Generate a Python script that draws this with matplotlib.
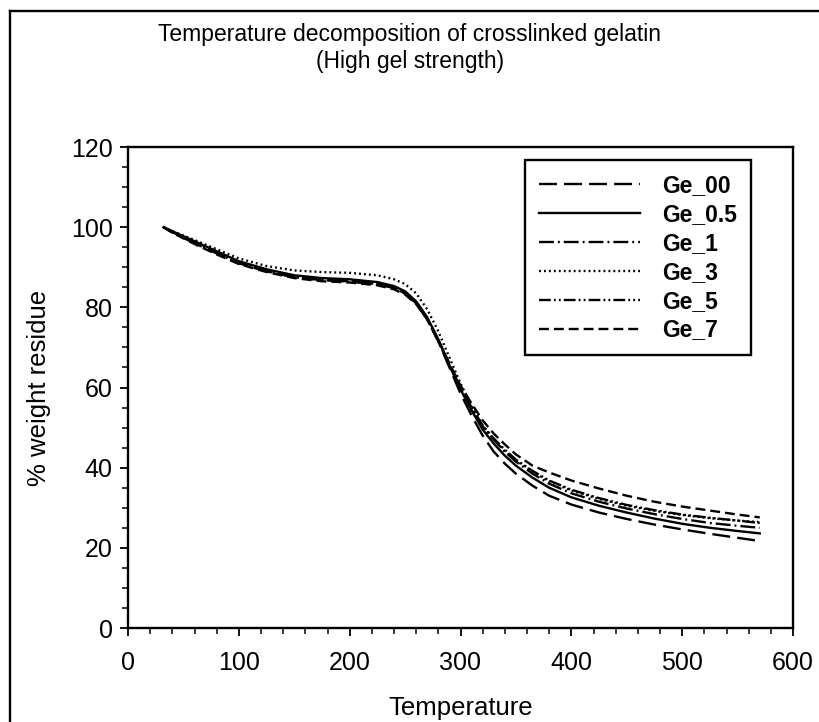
import matplotlib
matplotlib.use("Agg")
import matplotlib.pyplot as plt
from matplotlib.lines import Line2D
from matplotlib.ticker import MultipleLocator

plt.rcParams['font.family'] = ['Liberation Sans', 'DejaVu Sans']

temperature = [32, 40, 60, 80, 100, 125, 150, 175, 200, 225, 240, 250, 260, 270, 280, 290,
               300, 310, 320, 330, 340, 350, 365, 380, 400, 425, 450, 475, 500, 525, 550, 570]

ge_00 = [100, 98.8, 96.0, 93.5, 91.0, 89.0, 87.5, 86.8, 86.5, 85.8, 84.8, 83.5, 81.0, 77.0, 71.5, 65.0,
         58.5, 53.0, 48.0, 44.0, 41.0, 38.5, 35.5, 33.0, 30.8, 28.8, 27.2, 25.8, 24.6, 23.5, 22.5, 21.7]
ge_05 = [100, 99.0, 96.5, 94.0, 91.5, 89.5, 88.0, 87.3, 87.0, 86.3, 85.3, 84.0, 81.5, 77.5, 72.0, 65.5,
         59.5, 54.3, 49.5, 46.0, 43.0, 40.5, 37.5, 35.0, 32.6, 30.5, 28.8, 27.3, 26.0, 25.0, 24.2, 23.6]
ge_1 = [100, 98.8, 96.2, 93.8, 91.3, 89.3, 87.8, 87.0, 86.7, 86.0, 85.0, 83.8, 81.2, 77.2, 71.8, 65.8,
        60.0, 55.0, 50.3, 47.0, 44.0, 41.5, 38.5, 36.0, 33.6, 31.5, 29.8, 28.4, 27.2, 26.2, 25.5, 25.0]
ge_3 = [100, 99.0, 96.8, 94.5, 92.2, 90.3, 89.2, 88.8, 88.6, 88.0, 87.0, 85.8, 83.5, 79.5, 74.0, 67.5,
        61.0, 55.5, 50.5, 47.0, 44.2, 41.8, 39.0, 36.6, 34.3, 32.2, 30.5, 29.2, 28.2, 27.4, 26.8, 26.4]
ge_5 = [100, 98.7, 96.0, 93.5, 91.0, 89.0, 87.5, 86.8, 86.4, 85.8, 84.8, 83.5, 81.0, 77.0, 71.5, 65.5,
        59.8, 55.0, 50.5, 47.3, 44.5, 42.0, 39.2, 36.8, 34.5, 32.4, 30.7, 29.4, 28.3, 27.5, 26.8, 26.2]
ge_7 = [100, 98.6, 95.8, 93.2, 90.8, 88.8, 87.3, 86.5, 86.2, 85.5, 84.5, 83.2, 80.8, 77.0, 71.8, 66.0,
        60.5, 56.0, 51.8, 48.5, 45.8, 43.3, 40.5, 38.8, 36.8, 34.8, 33.0, 31.5, 30.3, 29.3, 28.3, 27.6]

labels = ["Ge_00", "Ge_0.5", "Ge_1", "Ge_3", "Ge_5", "Ge_7"]
series = [ge_00, ge_05, ge_1, ge_3, ge_5, ge_7]
dashes = [(7.6, 3), None, (6.3, 1.7, 0.8, 1.7), (0.8, 1.3), (5, 1.3, 0.8, 1.3, 0.8, 1.3), (4.2, 2.1)]

fig = plt.figure(figsize=(8.2, 7.22), dpi=100)
ax = fig.add_axes([128/820, 1-628/722, (793-128)/820, (628-147)/722])

for y, lab, d in zip(series, labels, dashes):
    line, = ax.plot(temperature, y, color='black', lw=1.7, label=lab)
    if d is not None:
        line.set_dashes(d)

ax.set_xlim(0, 600)
ax.set_ylim(0, 120)
ax.xaxis.set_major_locator(MultipleLocator(100))
ax.xaxis.set_minor_locator(MultipleLocator(20))
ax.yaxis.set_major_locator(MultipleLocator(20))
ax.yaxis.set_minor_locator(MultipleLocator(5))
ax.tick_params(which='major', direction='out', length=6, width=1.3, labelsize=18)
ax.tick_params(axis='x', which='major', pad=10.5)
ax.tick_params(axis='y', which='major', pad=5)
ax.tick_params(which='minor', direction='out', length=4, width=1.1)
for s in ax.spines.values():
    s.set_linewidth(1.7)

ax.set_xlabel("Temperature", fontsize=18.5, labelpad=15)
ax.set_ylabel("% weight residue", fontsize=18.5, labelpad=14)
fig.text(0.5, 1-48/722, "Temperature decomposition of crosslinked gelatin\n(High gel strength)",
         ha='center', va='center', fontsize=16.5, linespacing=1.2)

leg = ax.legend(loc='upper left', bbox_to_anchor=(0.597, 0.973), fancybox=False,
                edgecolor='black', framealpha=1, handlelength=4.4, handletextpad=1.0,
                labelspacing=0.26, borderpad=0.6, borderaxespad=0,
                prop={'weight': 'bold', 'size': 16.5})
leg.get_frame().set_linewidth(1.7)

# figure border (left and top)
fig.add_artist(Line2D([10/820, 10/820], [0, 1-11/722], color='black', lw=1.7))
fig.add_artist(Line2D([10/820, 1], [1-11/722, 1-11/722], color='black', lw=1.7))

fig.savefig("out.png", dpi=100)
